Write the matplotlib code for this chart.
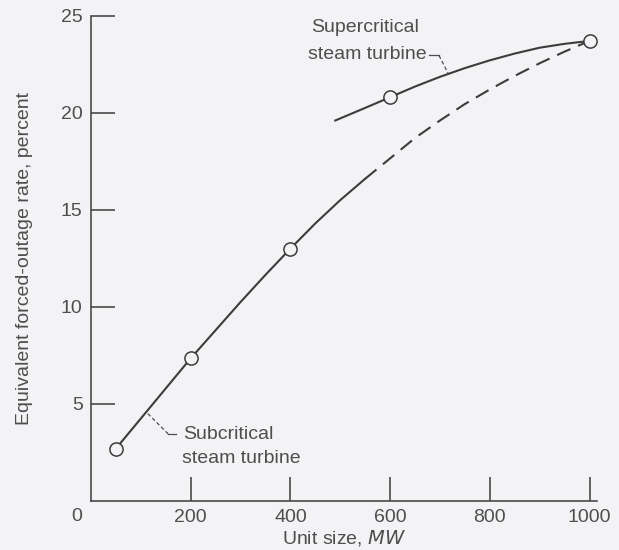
import matplotlib.pyplot as plt
import numpy as np

#===================================
# values

# subcritical steam turbine curve (solid part, then dashed extension)
sub_mw = [50, 100, 150, 200, 250, 300, 350, 400, 450, 500, 550]
sub_rate = [2.7, 4.25, 5.8, 7.35, 8.8, 10.25, 11.65, 13.0, 14.3, 15.5, 16.6]
sub_ext_mw = [550, 600, 650, 700, 750, 800, 850, 900, 950, 1000]
sub_ext_rate = [16.6, 17.65, 18.7, 19.6, 20.45, 21.2, 21.9, 22.55, 23.15, 23.7]

# supercritical steam turbine curve
super_mw = [490, 550, 600, 650, 700, 750, 800, 850, 900, 950, 1000]
super_rate = [19.6, 20.25, 20.8, 21.35, 21.85, 22.3, 22.7, 23.05, 23.35, 23.55, 23.7]

# data points (open circles)
point_mw = [50, 200, 400, 600, 1000]
point_rate = [2.7, 7.35, 13.0, 20.8, 23.7]

x_ticks = [200, 400, 600, 800, 1000]
y_ticks = [5, 10, 15, 20, 25]

#===================================

bg = '#f3f3f5'
ink = '#3c3c3c'
txt = '#4e4e4e'

plt.rcParams['font.family'] = ['Liberation Sans Narrow', 'Liberation Sans', 'DejaVu Sans']

fig = plt.figure(figsize=(6.19, 5.5), dpi=100, facecolor=bg)
ax = fig.add_axes([0.147, 0.0891, 0.8175, 0.8824])
ax.set_facecolor(bg)

ax.plot(sub_mw, sub_rate, color=ink, lw=1.5)
ax.plot(sub_ext_mw, sub_ext_rate, color=ink, lw=1.5, linestyle=(0, (7, 4)))
ax.plot(super_mw, super_rate, color=ink, lw=1.5)
ax.plot(point_mw, point_rate, linestyle='none', marker='o', ms=9.5,
        mfc=bg, mec=ink, mew=1.1, zorder=5)

# labels with leader lines
ax.text(442, 24.4, 'Supercritical', fontsize=14, color=txt, va='center')
ax.text(436, 23.0, 'steam turbine', fontsize=14, color=txt, va='center')
ax.plot([678, 698], [22.95, 22.95], color=txt, lw=0.9)
ax.plot([698, 716], [22.95, 22.05], color=txt, lw=0.9, linestyle=(0, (3, 2)))

ax.text(184, 3.4, 'Subcritical', fontsize=14, color=txt, va='center')
ax.text(182, 2.2, 'steam turbine', fontsize=14, color=txt, va='center')
ax.plot([114, 155], [4.5, 3.45], color=txt, lw=0.9, linestyle=(0, (3, 2)))
ax.plot([155, 170], [3.45, 3.45], color=txt, lw=0.9)

ax.set_xlim(0, 1015)
ax.set_ylim(0, 25)
ax.spines['top'].set_visible(False)
ax.spines['right'].set_visible(False)
for s in ['left', 'bottom']:
    ax.spines[s].set_color(ink)
    ax.spines[s].set_linewidth(1.1)

ax.set_xticks(x_ticks)
ax.set_yticks(y_ticks)
ax.tick_params(direction='in', length=17, width=1.1, color=ink,
               labelsize=14, labelcolor=txt, pad=6)
ax.text(-0.028, -0.031, '0', transform=ax.transAxes, fontsize=14,
        color=txt, ha='center', va='center')

ax.set_xlabel('Unit size, $\\it{MW}$', fontsize=14, color=txt, labelpad=1)
ax.set_ylabel('Equivalent forced-outage rate, percent', fontsize=14,
              color=txt, labelpad=20)

fig.savefig('out.png', dpi=100, facecolor=bg)
